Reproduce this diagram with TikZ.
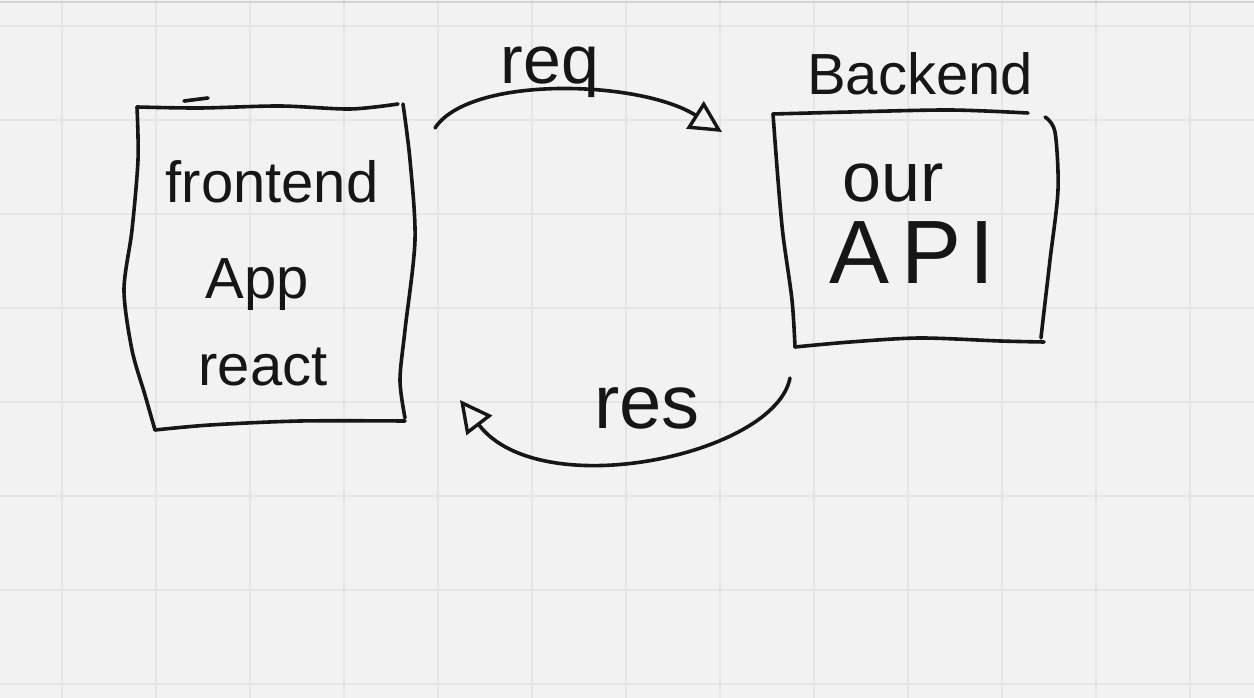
\documentclass[tikz,border=0pt]{standalone}
\usepackage{fontspec}
\setmainfont{Liberation Sans}
\usetikzlibrary{arrows.meta}
\definecolor{paper}{HTML}{F2F2F2}
\definecolor{gridline}{HTML}{E5E5E5}
\definecolor{ink}{HTML}{161616}
\tikzset{
  hand/.style={draw=ink, line width=3.6pt, line cap=round, line join=round},
  scribble/.style={text=ink, inner sep=0pt, anchor=base},
  handtip/.style={-{Triangle[open, length=32pt, width=32pt, line width=3.4pt]}},
}
\begin{document}
\begin{tikzpicture}[x=1pt, y=-1pt]
  % paper and grid
  \fill[paper] (0,0) rectangle (1254,698);
  \useasboundingbox (0,0) rectangle (1254,698);
  \foreach \gx in {62,156,...,1190}
    \draw[gridline, line width=1.5pt] (\gx,0) -- (\gx,698);
  \foreach \gy in {26,120,...,684}
    \draw[gridline, line width=1.5pt] (0,\gy) -- (1254,\gy);
  \draw[gray!35, line width=2.5pt] (0,2) -- (1254,2);

  % frontend box
  \draw[hand] plot[smooth] coordinates {(137,107) (200,108) (280,106) (350,109) (398,104)};
  \draw[hand] plot[smooth] coordinates {(403,104) (410,160) (415,240) (405,330) (400,380) (405,418)};
  \draw[hand] plot[smooth] coordinates {(155,430) (210,425) (300,421) (405,421)};
  \draw[hand] plot[smooth] coordinates {(137,107) (138,160) (132,230) (124,290) (132,350) (145,395) (155,430)};
  \draw[hand] (184,101) -- (208,98);
  \node[scribble, font=\fontsize{58}{58}\selectfont] (fetitle) at (272,203) {frontend};
  \node[scribble, font=\fontsize{58}{58}\selectfont] (feapp) at (257,298) {App};
  \node[scribble, font=\fontsize{58}{58}\selectfont] (fereact) at (263,385) {react};

  % backend box
  \draw[hand] plot[smooth] coordinates {(773,114) (850,112) (950,110) (1028,113)};
  \draw[hand] plot[smooth] coordinates {(1045,117) (1055,132) (1058,190) (1050,260) (1043,320) (1041,338)};
  \draw[hand] plot[smooth] coordinates {(773,114) (778,180) (783,235) (792,300) (795,347)};
  \draw[hand] plot[smooth] coordinates {(795,347) (850,342) (920,338) (1000,341) (1044,342)};
  \node[scribble, font=\fontsize{58}{58}\selectfont] (betitle) at (920,95) {Backend};
  \node[scribble, font=\fontsize{70}{70}\selectfont] (beour) at (893,202) {our};
  \node[scribble, font=\fontsize{90}{90}\selectfont] (beapi) at (912,283) {A\kern12pt P\kern8pt I};

  % request and response
  \coordinate (reqstart) at (435,128);
  \coordinate (reqend) at (722,132);
  \coordinate (resstart) at (790,378);
  \coordinate (resend) at (460,400);
  \draw[hand, handtip] (reqstart) .. controls (470,75) and (640,80) .. (reqend);
  \draw[hand, handtip] (resstart) .. controls (775,455) and (540,505) .. (resend);
  \node[scribble, font=\fontsize{68}{68}\selectfont] (reqtext) at (550,84) {req};
  \node[scribble, font=\fontsize{76}{76}\selectfont] (restext) at (647,428) {res};
\end{tikzpicture}
\end{document}
